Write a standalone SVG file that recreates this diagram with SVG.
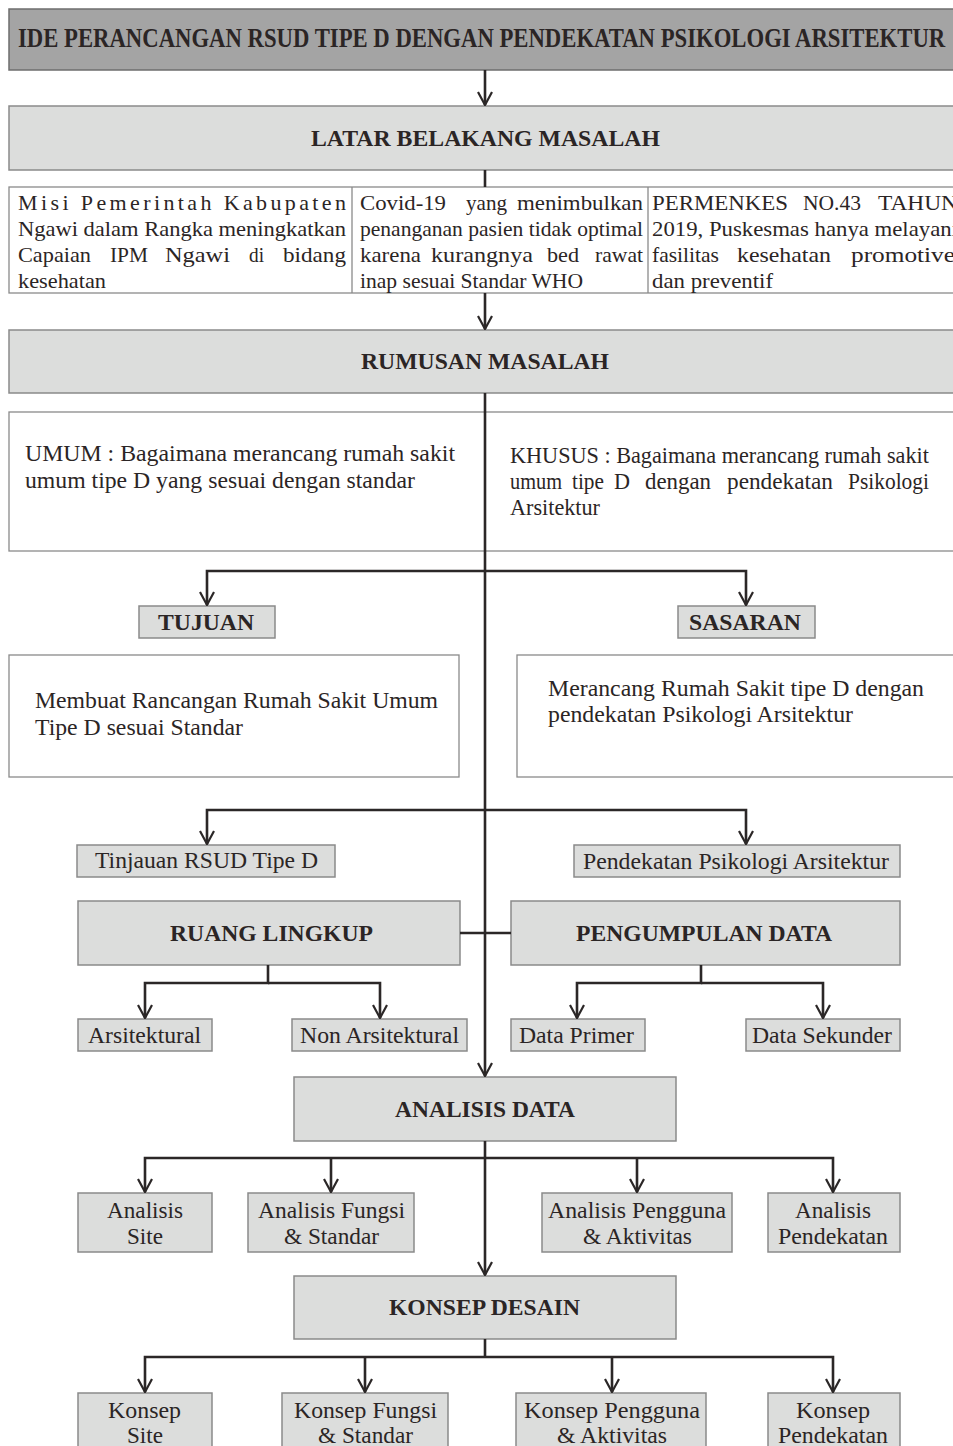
<svg xmlns="http://www.w3.org/2000/svg" width="953" height="1446" viewBox="0 0 953 1446">
<defs>
<style>
.t{font-family:"Liberation Serif","Times New Roman",serif;font-size:24px;fill:#2b2525}
.s{font-size:22px}
.b{font-weight:bold;font-size:23px}
.hd{font-weight:bold;font-size:27px}
.hdr{fill:#a4a4a4;stroke:#6e6e6e;stroke-width:1.5}
.lt{fill:#dcdddc;stroke:#8a8a8a;stroke-width:1.5}
.wh{fill:#ffffff;stroke:#8a8a8a;stroke-width:1.3}
.dv{stroke:#8a8a8a;stroke-width:1.3}
.ln{fill:none;stroke:#2b2727;stroke-width:2.6}
</style>
<marker id="ah" markerUnits="userSpaceOnUse" markerWidth="16" markerHeight="16" viewBox="0 0 16 16" refX="15" refY="8" orient="auto">
<path d="M2,1 L15,8 L2,15" fill="none" stroke="#2b2727" stroke-width="2.2"/>
</marker>
</defs>

<g id="ide">
<rect class="hdr" x="9" y="9" width="950" height="61"/>
<text class="t hd" x="0" y="0" transform="translate(18,47) scale(0.8,1)" textLength="1159" lengthAdjust="spacingAndGlyphs">IDE PERANCANGAN RSUD TIPE D DENGAN PENDEKATAN PSIKOLOGI ARSITEKTUR</text>
</g>

<g id="latar">
<rect class="lt" x="9" y="106" width="950" height="64"/>
<text class="t b" x="311" y="146" textLength="349" lengthAdjust="spacingAndGlyphs">LATAR BELAKANG MASALAH</text>
</g>

<g id="latar-isi">
<rect class="wh" x="9" y="187" width="950" height="106"/>
<line class="dv" x1="352" y1="187" x2="352" y2="293"/>
<line class="dv" x1="648" y1="187" x2="648" y2="293"/>
<text class="t s" x="18" y="210" textLength="328" lengthAdjust="spacing">Misi Pemerintah Kabupaten</text>
<text class="t s" x="18" y="236" textLength="328" lengthAdjust="spacingAndGlyphs">Ngawi dalam Rangka meningkatkan</text>
<text class="t s" x="18" y="262" textLength="73" lengthAdjust="spacingAndGlyphs">Capaian</text>
<text class="t s" x="110" y="262" textLength="38" lengthAdjust="spacingAndGlyphs">IPM</text>
<text class="t s" x="165" y="262" textLength="65" lengthAdjust="spacingAndGlyphs">Ngawi</text>
<text class="t s" x="249" y="262" textLength="15" lengthAdjust="spacingAndGlyphs">di</text>
<text class="t s" x="283" y="262" textLength="63" lengthAdjust="spacingAndGlyphs">bidang</text>
<text class="t s" x="18" y="288" textLength="88" lengthAdjust="spacingAndGlyphs">kesehatan</text>

<text class="t s" x="360" y="210" textLength="86" lengthAdjust="spacingAndGlyphs">Covid-19</text>
<text class="t s" x="466" y="210" textLength="41" lengthAdjust="spacingAndGlyphs">yang</text>
<text class="t s" x="517" y="210" textLength="126" lengthAdjust="spacingAndGlyphs">menimbulkan</text>
<text class="t s" x="360" y="236" textLength="283" lengthAdjust="spacingAndGlyphs">penanganan pasien tidak optimal</text>
<text class="t s" x="360" y="262" textLength="61" lengthAdjust="spacingAndGlyphs">karena</text>
<text class="t s" x="431" y="262" textLength="102" lengthAdjust="spacingAndGlyphs">kurangnya</text>
<text class="t s" x="547" y="262" textLength="32" lengthAdjust="spacingAndGlyphs">bed</text>
<text class="t s" x="595" y="262" textLength="48" lengthAdjust="spacingAndGlyphs">rawat</text>
<text class="t s" x="360" y="288" textLength="223" lengthAdjust="spacingAndGlyphs">inap sesuai Standar WHO</text>

<text class="t s" x="652" y="210" textLength="136" lengthAdjust="spacingAndGlyphs">PERMENKES</text>
<text class="t s" x="803" y="210" textLength="58" lengthAdjust="spacingAndGlyphs">NO.43</text>
<text class="t s" x="878" y="210" textLength="80" lengthAdjust="spacingAndGlyphs">TAHUN</text>
<text class="t s" x="652" y="236" textLength="306" lengthAdjust="spacingAndGlyphs">2019, Puskesmas hanya melayani</text>
<text class="t s" x="652" y="262" textLength="67" lengthAdjust="spacingAndGlyphs">fasilitas</text>
<text class="t s" x="737" y="262" textLength="94" lengthAdjust="spacingAndGlyphs">kesehatan</text>
<text class="t s" x="851" y="262" textLength="104" lengthAdjust="spacingAndGlyphs">promotive</text>
<text class="t s" x="652" y="288" textLength="121" lengthAdjust="spacingAndGlyphs">dan preventif</text>
</g>

<g id="rumusan">
<rect class="lt" x="9" y="330" width="950" height="63"/>
<text class="t b" x="361" y="369" textLength="248" lengthAdjust="spacingAndGlyphs">RUMUSAN MASALAH</text>
</g>

<g id="rumusan-isi">
<rect class="wh" x="9" y="412" width="950" height="139"/>
<text class="t" x="25" y="461" textLength="430" lengthAdjust="spacingAndGlyphs">UMUM : Bagaimana merancang rumah sakit</text>
<text class="t" x="25" y="488" textLength="390" lengthAdjust="spacingAndGlyphs">umum tipe D yang sesuai dengan standar</text>
<text class="t" x="0" y="0" transform="translate(510,463) scale(0.88,1)" textLength="476" lengthAdjust="spacingAndGlyphs">KHUSUS : Bagaimana merancang rumah sakit</text>
<text class="t" x="510" y="489" textLength="52" lengthAdjust="spacingAndGlyphs">umum</text>
<text class="t" x="572" y="489" textLength="32" lengthAdjust="spacingAndGlyphs">tipe</text>
<text class="t" x="614" y="489" textLength="16" lengthAdjust="spacingAndGlyphs">D</text>
<text class="t" x="645" y="489" textLength="66" lengthAdjust="spacingAndGlyphs">dengan</text>
<text class="t" x="727" y="489" textLength="106" lengthAdjust="spacingAndGlyphs">pendekatan</text>
<text class="t" x="848" y="489" textLength="81" lengthAdjust="spacingAndGlyphs">Psikologi</text>
<text class="t" x="510" y="515" textLength="90" lengthAdjust="spacingAndGlyphs">Arsitektur</text>
</g>

<g id="tujuan">
<rect class="lt" x="139" y="606" width="136" height="32"/>
<text class="t b" x="158" y="630" textLength="96" lengthAdjust="spacingAndGlyphs">TUJUAN</text>
</g>
<g id="sasaran">
<rect class="lt" x="678" y="606" width="137" height="32"/>
<text class="t b" x="689" y="630" textLength="112" lengthAdjust="spacingAndGlyphs">SASARAN</text>
</g>

<g id="tujuan-isi">
<rect class="wh" x="9" y="655" width="450" height="122"/>
<text class="t" x="35" y="708" textLength="403" lengthAdjust="spacingAndGlyphs">Membuat Rancangan Rumah Sakit Umum</text>
<text class="t" x="35" y="735" textLength="208" lengthAdjust="spacingAndGlyphs">Tipe D sesuai Standar</text>
</g>
<g id="sasaran-isi">
<rect class="wh" x="517" y="655" width="440" height="122"/>
<text class="t" x="548" y="696" textLength="376" lengthAdjust="spacingAndGlyphs">Merancang Rumah Sakit tipe D dengan</text>
<text class="t" x="548" y="722" textLength="305" lengthAdjust="spacingAndGlyphs">pendekatan Psikologi Arsitektur</text>
</g>

<g id="tinjauan">
<rect class="lt" x="77" y="845" width="258" height="32"/>
<text class="t" x="95" y="868" textLength="223" lengthAdjust="spacingAndGlyphs">Tinjauan RSUD Tipe D</text>
</g>
<g id="pendekatan">
<rect class="lt" x="574" y="845" width="326" height="32"/>
<text class="t" x="583" y="869" textLength="306" lengthAdjust="spacingAndGlyphs">Pendekatan Psikologi Arsitektur</text>
</g>

<g id="ruang-lingkup">
<rect class="lt" x="78" y="901" width="382" height="64"/>
<text class="t b" x="170" y="941" textLength="203" lengthAdjust="spacingAndGlyphs">RUANG LINGKUP</text>
</g>
<g id="pengumpulan-data">
<rect class="lt" x="511" y="901" width="389" height="64"/>
<text class="t b" x="576" y="941" textLength="256" lengthAdjust="spacingAndGlyphs">PENGUMPULAN DATA</text>
</g>

<g id="arsitektural">
<rect class="lt" x="78" y="1019" width="134" height="32"/>
<text class="t" x="88" y="1043" textLength="113" lengthAdjust="spacingAndGlyphs">Arsitektural</text>
</g>
<g id="non-arsitektural">
<rect class="lt" x="292" y="1019" width="175" height="32"/>
<text class="t" x="300" y="1043" textLength="159" lengthAdjust="spacingAndGlyphs">Non Arsitektural</text>
</g>
<g id="data-primer">
<rect class="lt" x="511" y="1019" width="134" height="32"/>
<text class="t" x="519" y="1043" textLength="115" lengthAdjust="spacingAndGlyphs">Data Primer</text>
</g>
<g id="data-sekunder">
<rect class="lt" x="746" y="1019" width="154" height="32"/>
<text class="t" x="752" y="1043" textLength="140" lengthAdjust="spacingAndGlyphs">Data Sekunder</text>
</g>

<g id="analisis-data">
<rect class="lt" x="294" y="1077" width="382" height="64"/>
<text class="t b" x="395" y="1117" textLength="180" lengthAdjust="spacingAndGlyphs">ANALISIS DATA</text>
</g>

<g id="analisis-site">
<rect class="lt" x="78" y="1193" width="134" height="59"/>
<text class="t" x="107" y="1218" textLength="76" lengthAdjust="spacingAndGlyphs">Analisis</text>
<text class="t" x="127" y="1244" textLength="36" lengthAdjust="spacingAndGlyphs">Site</text>
</g>
<g id="analisis-fungsi">
<rect class="lt" x="248" y="1193" width="166" height="59"/>
<text class="t" x="258" y="1218" textLength="147" lengthAdjust="spacingAndGlyphs">Analisis Fungsi</text>
<text class="t" x="284" y="1244" textLength="95" lengthAdjust="spacingAndGlyphs">&amp; Standar</text>
</g>
<g id="analisis-pengguna">
<rect class="lt" x="542" y="1193" width="190" height="59"/>
<text class="t" x="548" y="1218" textLength="178" lengthAdjust="spacingAndGlyphs">Analisis Pengguna</text>
<text class="t" x="583" y="1244" textLength="109" lengthAdjust="spacingAndGlyphs">&amp; Aktivitas</text>
</g>
<g id="analisis-pendekatan">
<rect class="lt" x="768" y="1193" width="132" height="59"/>
<text class="t" x="795" y="1218" textLength="76" lengthAdjust="spacingAndGlyphs">Analisis</text>
<text class="t" x="778" y="1244" textLength="110" lengthAdjust="spacingAndGlyphs">Pendekatan</text>
</g>

<g id="konsep-desain">
<rect class="lt" x="294" y="1276" width="382" height="63"/>
<text class="t b" x="389" y="1315" textLength="191" lengthAdjust="spacingAndGlyphs">KONSEP DESAIN</text>
</g>

<g id="konsep-site">
<rect class="lt" x="78" y="1393" width="134" height="62"/>
<text class="t" x="108" y="1418" textLength="73" lengthAdjust="spacingAndGlyphs">Konsep</text>
<text class="t" x="127" y="1443" textLength="36" lengthAdjust="spacingAndGlyphs">Site</text>
</g>
<g id="konsep-fungsi">
<rect class="lt" x="282" y="1393" width="166" height="62"/>
<text class="t" x="294" y="1418" textLength="143" lengthAdjust="spacingAndGlyphs">Konsep Fungsi</text>
<text class="t" x="318" y="1443" textLength="95" lengthAdjust="spacingAndGlyphs">&amp; Standar</text>
</g>
<g id="konsep-pengguna">
<rect class="lt" x="516" y="1393" width="190" height="62"/>
<text class="t" x="524" y="1418" textLength="176" lengthAdjust="spacingAndGlyphs">Konsep Pengguna</text>
<text class="t" x="557" y="1443" textLength="110" lengthAdjust="spacingAndGlyphs">&amp; Aktivitas</text>
</g>
<g id="konsep-pendekatan">
<rect class="lt" x="768" y="1393" width="132" height="62"/>
<text class="t" x="796" y="1418" textLength="74" lengthAdjust="spacingAndGlyphs">Konsep</text>
<text class="t" x="778" y="1443" textLength="110" lengthAdjust="spacingAndGlyphs">Pendekatan</text>
</g>

<g id="connectors">
<path class="ln" d="M485,70 V105" marker-end="url(#ah)"/>
<path class="ln" d="M485,170 V187"/>
<path class="ln" d="M485,293 V329" marker-end="url(#ah)"/>
<path class="ln" d="M485,393 V1076" marker-end="url(#ah)"/>
<path class="ln" d="M485,571 H207 V605" marker-end="url(#ah)"/>
<path class="ln" d="M485,571 H746 V605" marker-end="url(#ah)"/>
<path class="ln" d="M485,810 H207 V844" marker-end="url(#ah)"/>
<path class="ln" d="M485,810 H746 V844" marker-end="url(#ah)"/>
<path class="ln" d="M460,933 H511"/>
<path class="ln" d="M268,965 V983 H145 V1018" marker-end="url(#ah)"/>
<path class="ln" d="M268,983 H380 V1018" marker-end="url(#ah)"/>
<path class="ln" d="M701,965 V983 H577 V1018" marker-end="url(#ah)"/>
<path class="ln" d="M701,983 H823 V1018" marker-end="url(#ah)"/>
<path class="ln" d="M485,1141 V1275" marker-end="url(#ah)"/>
<path class="ln" d="M485,1158 H145 V1192" marker-end="url(#ah)"/>
<path class="ln" d="M331,1158 V1192" marker-end="url(#ah)"/>
<path class="ln" d="M637,1158 V1192" marker-end="url(#ah)"/>
<path class="ln" d="M485,1158 H833 V1192" marker-end="url(#ah)"/>
<path class="ln" d="M485,1339 V1357"/>
<path class="ln" d="M485,1357 H145 V1392" marker-end="url(#ah)"/>
<path class="ln" d="M365,1357 V1392" marker-end="url(#ah)"/>
<path class="ln" d="M612,1357 V1392" marker-end="url(#ah)"/>
<path class="ln" d="M485,1357 H833 V1392" marker-end="url(#ah)"/>
</g>
</svg>
